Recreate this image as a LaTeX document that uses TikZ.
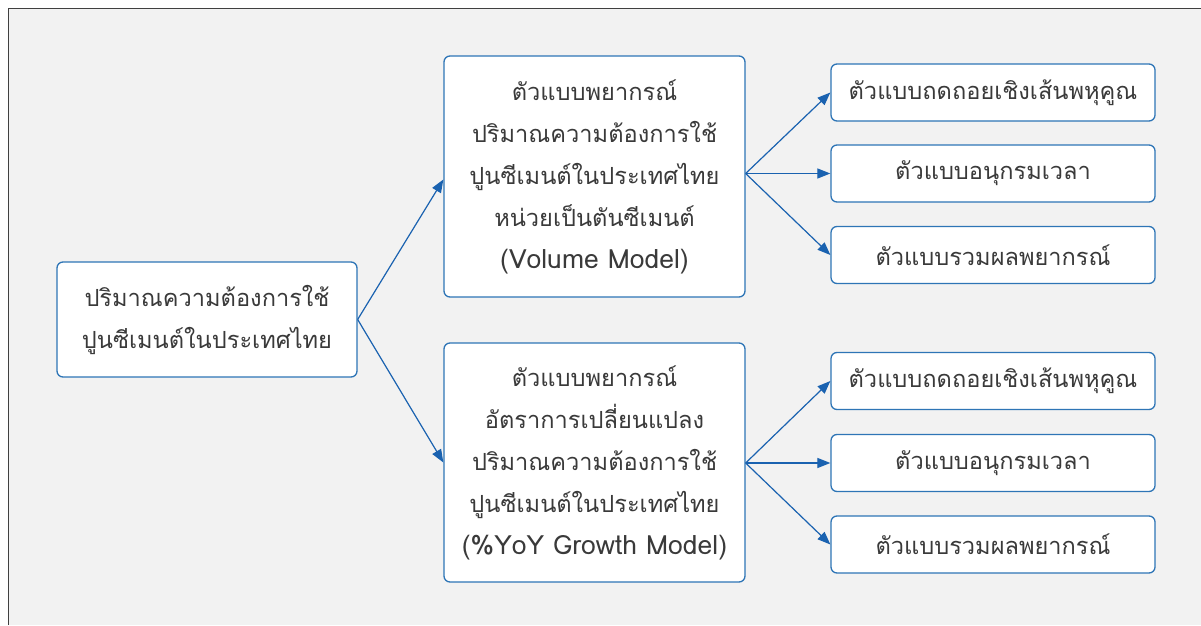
\documentclass[tikz,border=0pt]{standalone}
\usepackage{fontspec}
\newfontfamily\thaifont[Script=Thai]{Loma}
\usetikzlibrary{arrows.meta}
\definecolor{bg}{HTML}{F2F2F2}
\definecolor{boxblue}{HTML}{2E75B6}
\definecolor{arrblue}{HTML}{1A62B0}
\definecolor{txt}{HTML}{3A3A3A}
\definecolor{frame}{HTML}{404040}
\newcommand{\latinline}[1]{{\fontsize{26.5}{42}\selectfont #1}}
\begin{document}
\begin{tikzpicture}[x=1pt,y=1pt,
  box/.style={draw=boxblue, line width=1.3pt, rounded corners=6pt, fill=white,
    align=center, text=txt, inner sep=0pt,
    font=\thaifont\fontsize{23.6}{42}\selectfont},
  arr/.style={draw=arrblue, line width=1.2pt, -{Triangle[length=13pt,width=10pt]}}]
\useasboundingbox (0,0) rectangle (1201,625);
\fill[white] (0,0) rectangle (1201,625);
\fill[bg] (9,0) rectangle (1201,616);
\draw[frame, line width=1.5pt] (8.5,0) -- (8.5,616.5) -- (1201,616.5);

\node[box, minimum width=300pt, minimum height=115pt] (L) at (207,305.5)
  {ปริมาณความต้องการใช้\\ปูนซีเมนต์ในประเทศไทย};
\node[box, minimum width=301pt, minimum height=241pt] (MT) at (594.5,448.5)
  {ตัวแบบพยากรณ์\\ปริมาณความต้องการใช้\\ปูนซีเมนต์ในประเทศไทย\\หน่วยเป็นตันซีเมนต์\\\latinline{(Volume Model)}};
\node[box, minimum width=301pt, minimum height=239pt] (MB) at (594.5,162.5)
  {ตัวแบบพยากรณ์\\อัตราการเปลี่ยนแปลง\\ปริมาณความต้องการใช้\\ปูนซีเมนต์ในประเทศไทย\\\latinline{(\%YoY Growth Model)}};

\node[box, minimum width=324pt, minimum height=57pt] (R1) at (993,532.5) {ตัวแบบถดถอยเชิงเส้นพหุคูณ};
\node[box, minimum width=324pt, minimum height=57pt] (R2) at (993,451.5) {ตัวแบบอนุกรมเวลา};
\node[box, minimum width=324pt, minimum height=57pt] (R3) at (993,370) {ตัวแบบรวมผลพยากรณ์};
\node[box, minimum width=324pt, minimum height=57pt] (R4) at (993,244) {ตัวแบบถดถอยเชิงเส้นพหุคูณ};
\node[box, minimum width=324pt, minimum height=57pt] (R5) at (993,162) {ตัวแบบอนุกรมเวลา};
\node[box, minimum width=324pt, minimum height=57pt] (R6) at (993,80.5) {ตัวแบบรวมผลพยากรณ์};

\coordinate (MTo) at (MT.east |- R2.west);
\coordinate (MBo) at (MB.east |- R5.west);

\draw[arr] (L.east) -- ([yshift=-3pt]MT.west);
\draw[arr] (L.east) -- (MB.west);
\draw[arr] (MTo) -- (R1.west);
\draw[arr] (MTo) -- (R2.west);
\draw[arr] (MTo) -- (R3.west);
\draw[arr] (MBo) -- (R4.west);
\draw[arr] (MBo) -- (R5.west);
\draw[arr] (MBo) -- (R6.west);
\end{tikzpicture}
\end{document}
